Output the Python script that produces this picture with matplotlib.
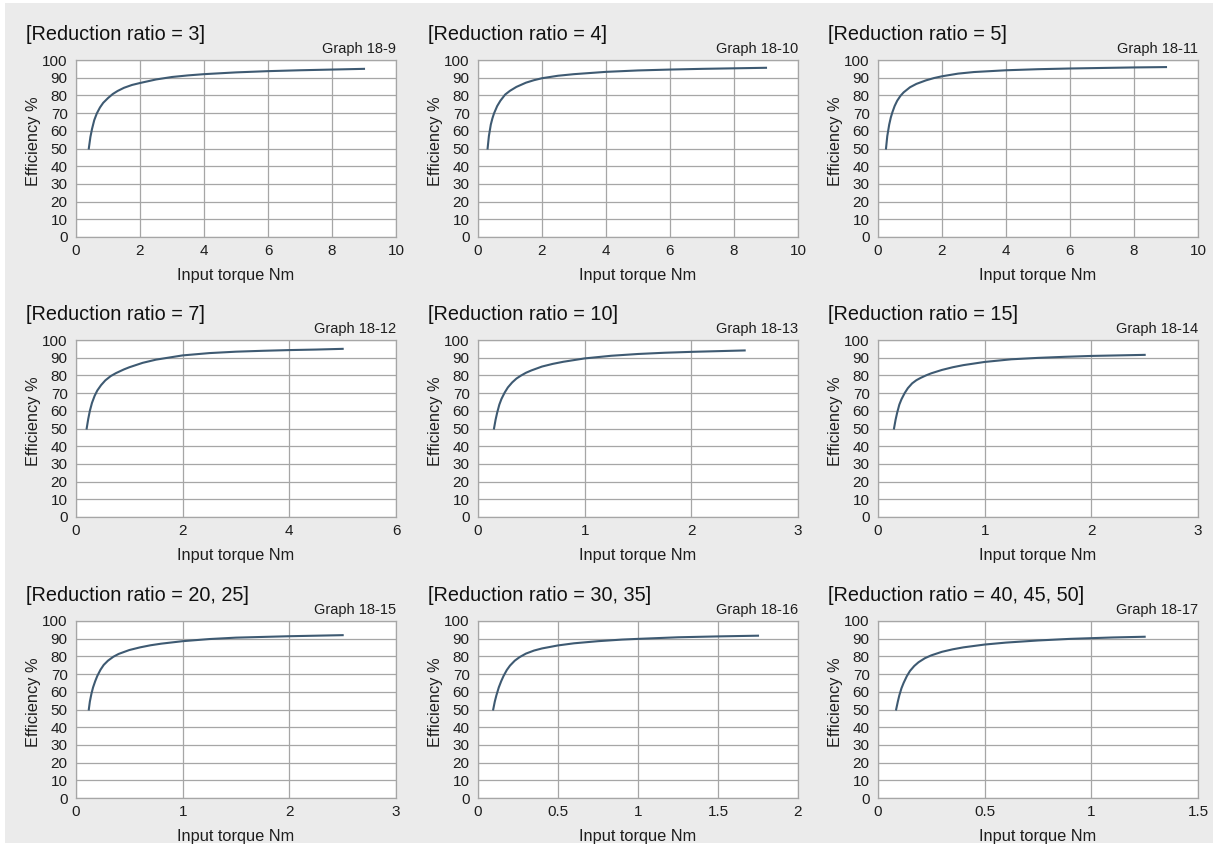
"""Efficiency vs input torque, reduction ratio panels (Graph 18-9 .. 18-17)"""

import numpy as np
import matplotlib.pyplot as plt
from matplotlib.patches import Rectangle

plt.rcParams['font.family'] = ['Liberation Sans', 'DejaVu Sans']

# --- data ---
titles = ['[Reduction ratio = 3]', '[Reduction ratio = 4]', '[Reduction ratio = 5]',
          '[Reduction ratio = 7]', '[Reduction ratio = 10]', '[Reduction ratio = 15]',
          '[Reduction ratio = 20, 25]', '[Reduction ratio = 30, 35]', '[Reduction ratio = 40, 45, 50]']
graph_names = ['Graph 18-9', 'Graph 18-10', 'Graph 18-11', 'Graph 18-12', 'Graph 18-13',
               'Graph 18-14', 'Graph 18-15', 'Graph 18-16', 'Graph 18-17']

r3_x = [0.4, 0.45, 0.5, 0.57, 0.65, 0.75, 0.85, 1.0, 1.15, 1.3, 1.5, 1.75, 2.0, 2.5, 3.0, 3.5, 4.0, 5.0, 6.0, 7.0, 8.0, 9.0]
r3_y = [50, 56.5, 61, 66, 69.8, 73.2, 75.8, 78.5, 80.8, 82.5, 84.3, 85.9, 87, 89, 90.4, 91.3, 92, 93, 93.7, 94.2, 94.6, 95]

r4_x = [0.3, 0.34, 0.4, 0.45, 0.5, 0.6, 0.7, 0.85, 1.0, 1.2, 1.5, 1.75, 2.0, 2.5, 3.0, 4.0, 5.0, 6.0, 7.0, 8.0, 9.0]
r4_y = [50, 57, 63.5, 67, 69.8, 74, 77, 80.5, 82.6, 84.8, 87.2, 88.6, 89.7, 91.1, 92, 93.3, 94.1, 94.6, 95, 95.3, 95.6]

r5_x = [0.25, 0.29, 0.35, 0.4, 0.45, 0.52, 0.6, 0.7, 0.8, 1.0, 1.2, 1.5, 1.75, 2.0, 2.5, 3.0, 4.0, 5.0, 6.0, 7.0, 8.0, 9.0]
r5_y = [50, 57, 63.5, 67.5, 70.5, 74, 77, 79.7, 81.7, 84.6, 86.5, 88.5, 89.8, 90.8, 92.3, 93.2, 94.2, 94.8, 95.2, 95.5, 95.8, 96]

r7_x = [0.2, 0.23, 0.26, 0.3, 0.35, 0.4, 0.47, 0.55, 0.65, 0.75, 0.9, 1.0, 1.25, 1.5, 2.0, 2.5, 3.0, 3.5, 4.0, 4.5, 5.0]
r7_y = [50, 55.5, 60, 64.5, 68.5, 71.5, 74.5, 77.2, 79.6, 81.3, 83.4, 84.6, 87.1, 88.9, 91.3, 92.6, 93.4, 93.9, 94.3, 94.6, 95]

r10_x = [0.15, 0.165, 0.18, 0.2, 0.22, 0.25, 0.28, 0.32, 0.36, 0.4, 0.45, 0.5, 0.6, 0.7, 0.8, 1.0, 1.25, 1.5, 1.75, 2.0, 2.25, 2.5]
r10_y = [50, 55, 59, 63.5, 66.7, 70.3, 73.2, 76, 78.2, 79.8, 81.5, 82.8, 85, 86.5, 87.7, 89.6, 91.1, 92.1, 92.8, 93.3, 93.7, 94.1]

r15_x = [0.15, 0.165, 0.18, 0.2, 0.22, 0.25, 0.28, 0.32, 0.36, 0.4, 0.45, 0.5, 0.6, 0.7, 0.8, 1.0, 1.25, 1.5, 1.75, 2.0, 2.25, 2.5]
r15_y = [50, 55, 59, 63.5, 66.5, 70, 72.8, 75.5, 77.3, 78.6, 80, 81.2, 83.1, 84.6, 85.8, 87.6, 89.1, 89.9, 90.5, 91, 91.3, 91.6]

r20_x = [0.12, 0.13, 0.145, 0.16, 0.18, 0.2, 0.23, 0.26, 0.3, 0.35, 0.4, 0.5, 0.6, 0.7, 0.8, 1.0, 1.25, 1.5, 2.0, 2.5]
r20_y = [50, 54.5, 59, 62.5, 66, 69, 72.5, 75.2, 77.6, 79.8, 81.4, 83.6, 85.1, 86.3, 87.2, 88.6, 89.8, 90.6, 91.4, 92]

r30_x = [0.095, 0.105, 0.115, 0.13, 0.145, 0.16, 0.18, 0.2, 0.23, 0.26, 0.3, 0.35, 0.4, 0.5, 0.6, 0.75, 0.9, 1.0, 1.25, 1.5, 1.75]
r30_y = [50, 54.5, 58, 62.5, 66, 69, 72.3, 74.8, 77.6, 79.6, 81.6, 83.3, 84.5, 86.2, 87.4, 88.6, 89.5, 89.9, 90.8, 91.3, 91.7]

r40_x = [0.085, 0.093, 0.1, 0.11, 0.12, 0.135, 0.15, 0.17, 0.19, 0.22, 0.25, 0.3, 0.35, 0.4, 0.5, 0.6, 0.75, 0.9, 1.0, 1.1, 1.25]
r40_y = [50, 54.5, 58, 62, 65, 68.8, 71.8, 74.6, 76.7, 79, 80.6, 82.6, 84, 85.1, 86.7, 87.8, 89, 89.9, 90.3, 90.7, 91.1]

curves_x = [r3_x, r4_x, r5_x, r7_x, r10_x, r15_x, r20_x, r30_x, r40_x]
curves_y = [r3_y, r4_y, r5_y, r7_y, r10_y, r15_y, r20_y, r30_y, r40_y]

xticks = [[0, 2, 4, 6, 8, 10]] * 3 + [[0, 2, 4, 6]] + [[0, 1, 2, 3]] * 3 + \
         [[0, 0.5, 1, 1.5, 2], [0, 0.5, 1, 1.5]]
xtick_labels = [['0', '2', '4', '6', '8', '10']] * 3 + [['0', '2', '4', '6']] + \
               [['0', '1', '2', '3']] * 3 + [['0', '0.5', '1', '1.5', '2'], ['0', '0.5', '1', '1.5']]
yticks = list(range(0, 101, 10))

W, H = 1225, 851
fig = plt.figure(figsize=(W / 100, H / 100), dpi=100)
fig.patch.set_facecolor('white')
fig.patches.append(Rectangle((5 / W, 1 - 843 / H), 1208 / W, 840 / H,
                             transform=fig.transFigure, facecolor='#ebebeb',
                             edgecolor='none', zorder=-10))

col_left = [76, 478, 878]
row_top = [60, 340, 621]
ax_w, ax_h = 320, 177
grid_col = '#a6a6a6'
line_col = '#3e5a72'
txt_col = '#1e1e1e'

for i in range(9):
    r, c = divmod(i, 3)
    ax = fig.add_axes([col_left[c] / W, 1 - (row_top[r] + ax_h) / H, ax_w / W, ax_h / H])
    ax.plot(curves_x[i], curves_y[i], color=line_col, lw=1.5)
    ax.set_xlim(xticks[i][0], xticks[i][-1])
    ax.set_ylim(0, 100)
    ax.set_xticks(xticks[i])
    ax.set_xticklabels(xtick_labels[i])
    ax.set_yticks(yticks)
    ax.grid(True, color=grid_col, lw=0.9)
    ax.set_axisbelow(True)
    for s in ax.spines.values():
        s.set_color(grid_col)
        s.set_linewidth(0.9)
    ax.tick_params(length=0, labelsize=11, colors=txt_col)
    ax.tick_params(axis='y', pad=6)
    ax.tick_params(axis='x', pad=5)
    ax.set_ylabel('Efficiency %', fontsize=11.8, color=txt_col)
    ax.yaxis.set_label_coords(-35 / ax_w, 0.54)
    ax.set_xlabel('Input torque Nm', fontsize=11.8, color=txt_col, labelpad=7)
    ax.text(-50 / ax_w, 1 + 20 / ax_h, titles[i], transform=ax.transAxes,
            fontsize=14.3, ha='left', va='baseline', color='#111111')
    ax.text(1.0, 1 + 7 / ax_h, graph_names[i], transform=ax.transAxes,
            fontsize=10.5, ha='right', va='baseline', color=txt_col)

plt.savefig('out.png', dpi=100)
